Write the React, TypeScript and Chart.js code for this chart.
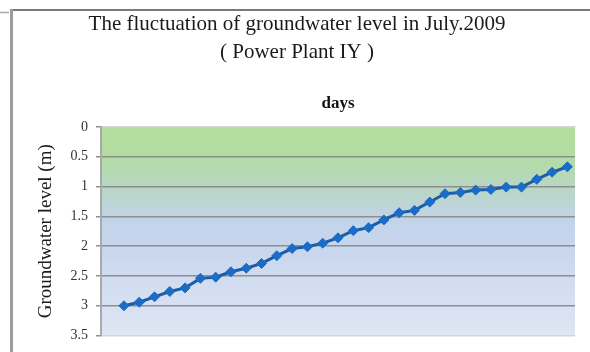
import React, { useEffect, useRef } from "react";
import { Chart, registerables } from "chart.js";

Chart.register(...registerables);

// Days of July 2009
const days = [
  "1", "2", "3", "4", "5", "6", "7", "8", "9", "10",
  "11", "12", "13", "14", "15", "16", "17", "18", "19", "20",
  "21", "22", "23", "24", "25", "26", "27", "28", "29", "30", "31",
];

// Depth of the groundwater table below ground (m); no reading on day 1
const levels = [
  null, 3.0, 2.94, 2.85, 2.76, 2.7, 2.54, 2.52, 2.43, 2.37, 2.29,
  2.16, 2.04, 2.01, 1.95, 1.86, 1.74, 1.69, 1.56, 1.44, 1.4,
  1.26, 1.12, 1.1, 1.06, 1.05, 1.01, 1.01, 0.88, 0.76, 0.67,
];

const yTicks = [0, 0.5, 1, 1.5, 2, 2.5, 3, 3.5];

const titleText = "The fluctuation of groundwater level in July.2009";
const subtitleText = "( Power Plant IY )";

const SERIF = "'Liberation Serif', 'Times New Roman', serif";

// Green-to-blue wash behind the plot area
const plotBackground = {
  id: "plotBackground",
  beforeDraw(chart: any) {
    const { ctx, chartArea } = chart;
    const { left, top, right, bottom } = chartArea;
    const g = ctx.createLinearGradient(0, top, 0, bottom);
    g.addColorStop(0, "#b2de9f");
    g.addColorStop(0.13, "#b2dca1");
    g.addColorStop(0.29, "#b8d6c3");
    g.addColorStop(0.45, "#c3d3ea");
    g.addColorStop(0.6, "#c9d7ee");
    g.addColorStop(1, "#dfe6f4");
    ctx.save();
    ctx.fillStyle = g;
    ctx.fillRect(left, top, right - left, bottom - top);
    ctx.restore();
  },
};

// Outer frame lines of the sheet
const frame = {
  id: "frame",
  afterDraw(chart: any) {
    const { ctx, width, height } = chart;
    ctx.save();
    ctx.strokeStyle = "#7a7a7a";
    ctx.lineWidth = 2;
    ctx.beginPath();
    ctx.moveTo(10, 10);
    ctx.lineTo(width, 10);
    ctx.stroke();
    ctx.strokeStyle = "#9c9c9c";
    ctx.lineWidth = 3;
    ctx.beginPath();
    ctx.moveTo(11.5, 9);
    ctx.lineTo(11.5, height);
    ctx.stroke();
    ctx.strokeStyle = "#a8a8a8";
    ctx.lineWidth = 1.5;
    ctx.beginPath();
    ctx.moveTo(0, 12.5);
    ctx.lineTo(9, 12.5);
    ctx.stroke();
    ctx.restore();
  },
};

export default function App() {
  const canvasRef = useRef<HTMLCanvasElement | null>(null);

  useEffect(() => {
    if (!canvasRef.current) return;
    const chart = new Chart(canvasRef.current, {
      type: "line",
      data: {
        labels: days,
        datasets: [
          {
            label: "Groundwater level",
            data: levels,
            borderColor: "#1d5ca6",
            borderWidth: 3,
            pointStyle: "rectRot",
            pointRadius: 5,
            pointBackgroundColor: "#1a6cc6",
            pointBorderColor: "#1a6cc6",
            pointBorderWidth: 1,
            tension: 0,
          },
        ],
      },
      options: {
        responsive: false,
        animation: false,
        layout: { padding: { top: 10, left: 19, right: 15, bottom: 13 } },
        plugins: {
          legend: { display: false },
          tooltip: { enabled: false },
          title: {
            display: true,
            text: titleText,
            color: "#1a1a1a",
            font: { family: SERIF, size: 21, weight: "normal" },
            padding: { top: 2, bottom: 0 },
          },
          subtitle: {
            display: true,
            text: subtitleText,
            color: "#1a1a1a",
            font: { family: SERIF, size: 21, weight: "normal" },
            padding: { top: 2.5, bottom: 0 },
          },
        },
        scales: {
          x: {
            type: "category",
            position: "top",
            offset: true,
            ticks: { display: false },
            grid: { display: false, drawTicks: false, offset: true },
            border: { display: true, color: "#d6d6d6", width: 1 },
            title: {
              display: true,
              text: "days",
              color: "#111",
              font: { family: SERIF, size: 17, weight: "bold" },
              padding: { top: 28.5, bottom: 0 },
            },
            afterFit(scale: any) {
              scale.height = 62;
            },
          },
          y: {
            type: "linear",
            reverse: true,
            min: 0,
            max: 3.5,
            afterBuildTicks(scale: any) {
              scale.ticks = yTicks.map((v) => ({ value: v }));
            },
            ticks: {
              color: "#333",
              padding: 8,
              font: { family: SERIF, size: 14 },
              callback: (v: any) => String(v),
            },
            grid: {
              color: (c: any) =>
                c.tick && (c.tick.value === 0 || c.tick.value === 3.5)
                  ? "#d4d4d4"
                  : "#8e8e8e",
              lineWidth: 1.5,
              tickLength: 5,
              tickColor: "#8e8e8e",
            },
            border: { display: true, color: "#a9a9a9", width: 2 },
            title: {
              display: true,
              text: "Groundwater level (m)",
              color: "#1a1a1a",
              font: { family: SERIF, size: 19, weight: "normal" },
              padding: { top: 16, bottom: 0 },
            },
            afterFit(scale: any) {
              scale.width = 82;
            },
          },
        },
      },
      plugins: [plotBackground, frame],
    });
    return () => chart.destroy();
  }, []);

  return (
    <div style={{ position: "absolute", left: 0, top: 0, width: 590, height: 352, background: "#fff" }}>
      <canvas ref={canvasRef} width={590} height={352} />
    </div>
  );
}
